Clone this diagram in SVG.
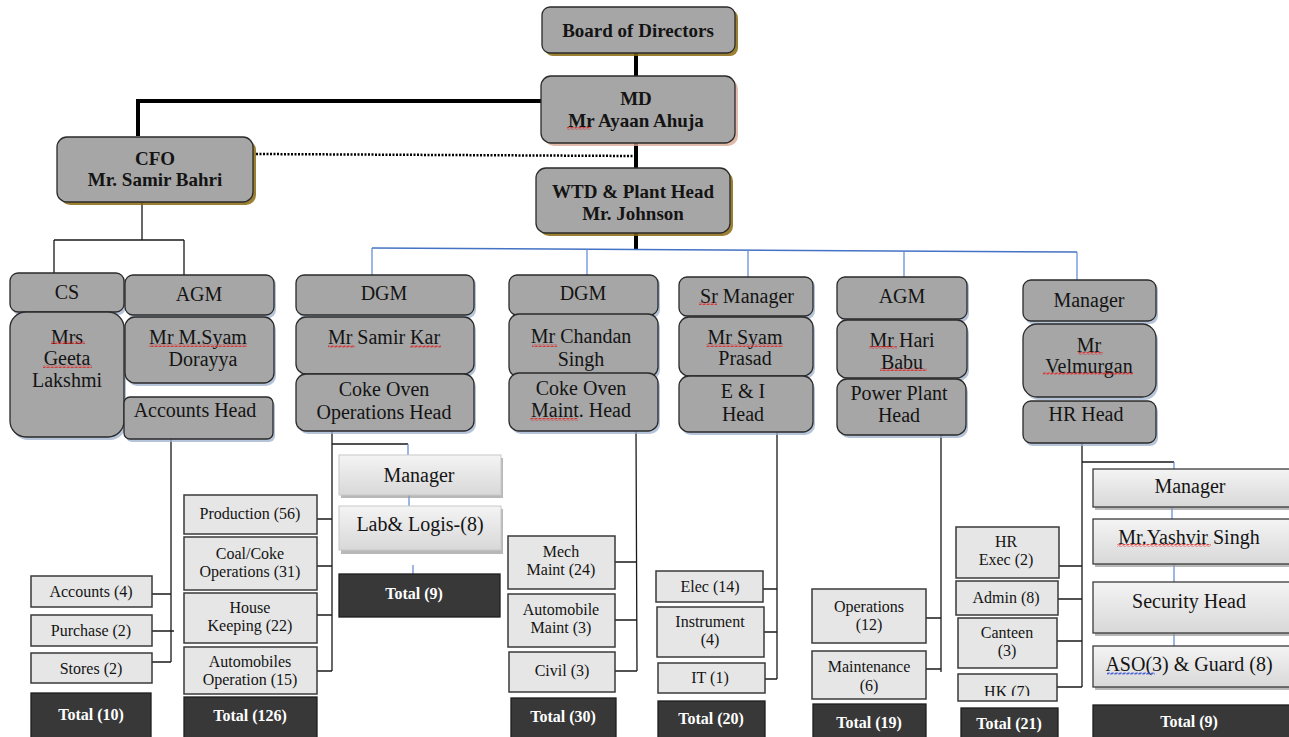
<svg xmlns="http://www.w3.org/2000/svg" width="1289" height="737" viewBox="0 0 1289 737">
<style>
.g{fill:#a6a6a6;stroke:#2a2a2a;stroke-width:1.3}
.shb{fill:#9db0cc;opacity:.75}
.shg{fill:#8a6a10;opacity:.85}
.shp{fill:#d9a993;opacity:.8}
.lt{fill:url(#lg);stroke:#c8c8c8;stroke-width:1}
.lt2{fill:url(#lg);stroke:#3a3a3a;stroke-width:1.3}
.shl{fill:#9a9a9a;opacity:.7}
.bx{fill:#e6e6e6;stroke:#3a3a3a;stroke-width:1.5}
.tot{fill:#383838;stroke:#1e1e1e;stroke-width:1.3}
text{font-family:"Liberation Serif","Times New Roman",serif;fill:#141414;text-anchor:middle}
.hb{font-size:19px;font-weight:bold}
.n{font-size:20px}
.s{font-size:16px}
.tw{font-size:16px;font-weight:bold;fill:#ffffff}
.k{stroke:#1a1a1a;fill:none;stroke-width:1.3}
.kk{stroke:#000;fill:none;stroke-width:4}
.bl{stroke:#4472c4;fill:none;stroke-width:1.5}
.blt{stroke:#5b86d6;fill:none;stroke-width:1.2}
.sq{fill:url(#wr)}
.sqb{fill:url(#wb)}
</style>
<defs>
<linearGradient id="lg" x1="0" y1="0" x2="0" y2="1">
<stop offset="0" stop-color="#f4f4f4"/>
<stop offset="1" stop-color="#d8d8d8"/>
</linearGradient>
<pattern id="wr" width="4" height="3" patternUnits="userSpaceOnUse">
<path d="M0,2.5 L1,0.5 L3,2.5 L4,0.5" stroke="#e02020" stroke-width="0.8" fill="none"/>
</pattern>
<pattern id="wb" width="4" height="3" patternUnits="userSpaceOnUse">
<path d="M0,2.5 L1,0.5 L3,2.5 L4,0.5" stroke="#2040d0" stroke-width="0.8" fill="none"/>
</pattern>
<clipPath id="hkclip"><rect x="958" y="674" width="99" height="22"/></clipPath>
</defs>

<g id="connectors">
<path class="kk" d="M636,53 V76" stroke-width="3"/>
<path class="kk" d="M541,101 H138 V136"/>
<path d="M256,154 L635,156" stroke="#000" stroke-width="2.5" stroke-dasharray="2,1.5" fill="none"/>
<path class="kk" d="M636,143 V168" stroke-width="3.5"/>
<path class="kk" d="M636,233 V249" stroke-width="3.5"/>
<path class="bl" d="M372,248 L1077,252"/>
<path class="blt" d="M372,248 V275 M587,249 V275 M748,250 V277 M904,251 V277 M1077,252 V280"/>
<path class="k" d="M142,202 V240 M54,240 H184 M54,240 V273 M184,240 V275"/>
<path class="k" d="M171,439 V662 M152,594 H171 M152,631 H174 M152,662 H171"/>
<path class="k" d="M332,431 V671 M332,444 H408 M317,519 H332 M317,566 H332 M317,615 H332 M317,671 H332"/>
<path class="blt" d="M408,444 V455 M409,495 V506 M413,565 V574"/>
<path class="k" d="M636,431 L637,671 M615,562 H636 M615,620 H637 M615,671 H637"/>
<path class="k" d="M777,432 V679 M763,589 H777 M764,632 H777 M765,679 H777"/>
<path class="k" d="M941,435 V672 M926,618 H941 M926,669 H941"/>
<path class="k" d="M1082,443 V687 M1082,462 H1174 M1059,566 H1082 M1058,599 H1082 M1057,641 H1082 M1057,687 H1082"/>
<path class="blt" d="M1174,462 V469 M1172,507 V519 M1174,564 V582 M1174,633 V646"/>
</g>

<g id="board">
<rect class="shg" x="545" y="10" width="193" height="46" rx="8"/>
<rect class="g" x="542" y="7" width="193" height="46" rx="8"/>
<text class="hb" x="638" y="37">Board of Directors</text>
</g>
<g id="md">
<rect class="shp" x="544" y="79" width="194" height="67" rx="10"/>
<rect class="g" x="541" y="76" width="194" height="67" rx="10"/>
<text class="hb" x="636" y="105">MD</text>
<text class="hb" x="636" y="127">Mr Ayaan Ahuja</text>
<rect class="sq" x="567" y="127" width="24" height="3"/>
</g>
<g id="cfo">
<rect class="shg" x="60" y="140" width="196" height="65" rx="10"/>
<rect class="g" x="57" y="137" width="196" height="65" rx="10"/>
<text class="hb" x="155" y="165">CFO</text>
<text class="hb" x="155" y="186">Mr. Samir Bahri</text>
</g>
<g id="wtd">
<rect class="shg" x="539" y="171" width="194" height="65" rx="10"/>
<rect class="g" x="536" y="168" width="194" height="65" rx="10"/>
<text class="hb" x="633" y="198">WTD &amp; Plant Head</text>
<text class="hb" x="633" y="220">Mr. Johnson</text>
</g>

<g id="cs">
<rect class="shb" x="12" y="275" width="114" height="40" rx="8"/>
<rect class="g" x="10" y="273" width="114" height="39" rx="8"/>
<text class="n" x="67" y="299">CS</text>
</g>
<g id="cs-name">
<rect class="shb" x="12" y="315" width="114" height="125" rx="16"/>
<rect class="g" x="10" y="312" width="114" height="125" rx="16"/>
<text class="n" x="67" y="344">Mrs</text>
<text class="n" x="67" y="365">Geeta</text>
<text class="n" x="67" y="387">Lakshmi</text>
<rect class="sq" x="51" y="341" width="34" height="3"/>
<rect class="sq" x="43" y="365" width="49" height="3"/>
</g>
<g id="agm1">
<rect class="shb" x="127" y="277" width="149" height="41" rx="8"/>
<rect class="g" x="125" y="275" width="149" height="40" rx="8"/>
<text class="n" x="199" y="301">AGM</text>
</g>
<g id="agm1-name">
<rect class="shb" x="127" y="320" width="149" height="66" rx="10"/>
<rect class="g" x="125" y="317" width="149" height="66" rx="10"/>
<text class="n" x="198" y="344">Mr M.Syam</text>
<text class="n" x="203" y="366">Dorayya</text>
<rect class="sq" x="149" y="344" width="98" height="3"/>
</g>
<g id="accounts-head">
<rect class="shb" x="126" y="400" width="149" height="42" rx="6"/>
<rect class="g" x="124" y="397" width="149" height="42" rx="6"/>
<text class="n" x="195" y="417">Accounts Head</text>
</g>

<g id="dgm1">
<rect class="shb" x="298" y="277" width="178" height="41" rx="8"/>
<rect class="g" x="296" y="275" width="178" height="40" rx="8"/>
<text class="n" x="384" y="300">DGM</text>
</g>
<g id="dgm1-name">
<rect class="shb" x="298" y="320" width="178" height="57" rx="10"/>
<rect class="g" x="296" y="317" width="178" height="57" rx="10"/>
<text class="n" x="384" y="344">Mr Samir Kar</text>
<rect class="sq" x="328" y="345" width="27" height="3"/>
<rect class="sq" x="410" y="345" width="31" height="3"/>
</g>
<g id="coke-ops-head">
<rect class="shb" x="298" y="377" width="178" height="57" rx="10"/>
<rect class="g" x="296" y="374" width="178" height="57" rx="10"/>
<text class="n" x="384" y="396">Coke Oven</text>
<text class="n" x="384" y="419">Operations Head</text>
</g>

<g id="dgm2">
<rect class="shb" x="511" y="277" width="149" height="41" rx="8"/>
<rect class="g" x="509" y="275" width="149" height="40" rx="8"/>
<text class="n" x="583" y="300">DGM</text>
</g>
<g id="dgm2-name">
<rect class="shb" x="511" y="317" width="149" height="63" rx="10"/>
<rect class="g" x="509" y="314" width="149" height="63" rx="10"/>
<text class="n" x="581" y="343">Mr Chandan</text>
<text class="n" x="581" y="366">Singh</text>
<rect class="sq" x="532" y="344" width="25" height="3"/>
</g>
<g id="coke-maint-head">
<rect class="shb" x="511" y="376" width="149" height="58" rx="10"/>
<rect class="g" x="509" y="373" width="149" height="58" rx="10"/>
<text class="n" x="581" y="395">Coke Oven</text>
<text class="n" x="581" y="417">Maint. Head</text>
<rect class="sq" x="530" y="418" width="48" height="3"/>
</g>

<g id="srmgr">
<rect class="shb" x="681" y="279" width="134" height="40" rx="8"/>
<rect class="g" x="679" y="277" width="134" height="39" rx="8"/>
<text class="n" x="747" y="303">Sr Manager</text>
<rect class="sq" x="699" y="302" width="18" height="3"/>
</g>
<g id="srmgr-name">
<rect class="shb" x="681" y="320" width="134" height="59" rx="10"/>
<rect class="g" x="679" y="317" width="134" height="59" rx="10"/>
<text class="n" x="745" y="344">Mr Syam</text>
<text class="n" x="745" y="365">Prasad</text>
<rect class="sq" x="706" y="344" width="77" height="3"/>
</g>
<g id="ei-head">
<rect class="shb" x="681" y="379" width="134" height="56" rx="10"/>
<rect class="g" x="679" y="376" width="134" height="56" rx="10"/>
<text class="n" x="743" y="398">E &amp; I</text>
<text class="n" x="743" y="421">Head</text>
</g>

<g id="agm2">
<rect class="shb" x="839" y="279" width="130" height="43" rx="8"/>
<rect class="g" x="837" y="277" width="130" height="42" rx="8"/>
<text class="n" x="902" y="303">AGM</text>
</g>
<g id="agm2-name">
<rect class="shb" x="839" y="323" width="130" height="58" rx="10"/>
<rect class="g" x="837" y="320" width="130" height="58" rx="10"/>
<text class="n" x="902" y="347">Mr Hari</text>
<text class="n" x="902" y="369">Babu</text>
<rect class="sq" x="869" y="346" width="28" height="3"/>
<rect class="sq" x="880" y="368" width="47" height="3"/>
</g>
<g id="power-head">
<rect class="shb" x="839" y="382" width="129" height="56" rx="10"/>
<rect class="g" x="837" y="379" width="129" height="56" rx="10"/>
<text class="n" x="899" y="400">Power Plant</text>
<text class="n" x="899" y="422">Head</text>
</g>

<g id="mgr-hr">
<rect class="shb" x="1025" y="282" width="133" height="42" rx="8"/>
<rect class="g" x="1023" y="280" width="133" height="41" rx="8"/>
<text class="n" x="1089" y="307">Manager</text>
</g>
<g id="mgr-hr-name">
<rect class="shb" x="1025" y="327" width="133" height="73" rx="14"/>
<rect class="g" x="1023" y="324" width="133" height="73" rx="14"/>
<text class="n" x="1089" y="352">Mr</text>
<text class="n" x="1089" y="373">Velmurgan</text>
<rect class="sq" x="1078" y="352" width="25" height="3"/>
<rect class="sq" x="1043" y="372" width="90" height="3"/>
</g>
<g id="hr-head">
<rect class="shb" x="1025" y="404" width="133" height="42" rx="8"/>
<rect class="g" x="1023" y="401" width="133" height="42" rx="8"/>
<text class="n" x="1086" y="421">HR Head</text>
</g>

<g id="accounts">
<rect class="bx" x="31" y="576" width="121" height="31"/>
<text class="s" x="91" y="597">Accounts (4)</text>
</g>
<g id="purchase">
<rect class="bx" x="31" y="615" width="121" height="31"/>
<text class="s" x="91" y="636">Purchase (2)</text>
</g>
<g id="stores">
<rect class="bx" x="31" y="653" width="121" height="30"/>
<text class="s" x="91" y="674">Stores (2)</text>
</g>
<g id="total-10">
<rect class="tot" x="31" y="693" width="120" height="46"/>
<text class="tw" x="91" y="720">Total (10)</text>
</g>

<g id="production">
<rect class="bx" x="184" y="495" width="133" height="39"/>
<text class="s" x="250" y="519">Production (56)</text>
</g>
<g id="coal-coke">
<rect class="bx" x="184" y="537" width="133" height="53"/>
<text class="s" x="250" y="559">Coal/Coke</text>
<text class="s" x="250" y="577">Operations (31)</text>
</g>
<g id="housekeeping">
<rect class="bx" x="184" y="593" width="133" height="50"/>
<text class="s" x="250" y="613">House</text>
<text class="s" x="250" y="631">Keeping (22)</text>
</g>
<g id="automobiles-op">
<rect class="bx" x="184" y="647" width="133" height="47"/>
<text class="s" x="250" y="667">Automobiles</text>
<text class="s" x="250" y="685">Operation (15)</text>
</g>
<g id="total-126">
<rect class="tot" x="184" y="697" width="133" height="42"/>
<text class="tw" x="250" y="721">Total (126)</text>
</g>

<g id="manager-lab">
<rect class="shl" x="341" y="458" width="162" height="40"/>
<rect class="lt" x="339" y="455" width="162" height="40"/>
<text class="n" x="419" y="482">Manager</text>
</g>
<g id="lab-logis">
<rect class="shl" x="341" y="509" width="162" height="45"/>
<rect class="lt" x="339" y="506" width="162" height="44"/>
<text class="n" x="420" y="531">Lab&amp; Logis-(8)</text>
</g>
<g id="total-9a">
<rect class="tot" x="339" y="574" width="161" height="43"/>
<text class="tw" x="414" y="599">Total (9)</text>
</g>

<g id="mech-maint">
<rect class="bx" x="508" y="536" width="107" height="53"/>
<text class="s" x="561" y="557">Mech</text>
<text class="s" x="561" y="575">Maint (24)</text>
</g>
<g id="auto-maint">
<rect class="bx" x="508" y="594" width="107" height="53"/>
<text class="s" x="561" y="615">Automobile</text>
<text class="s" x="561" y="633">Maint (3)</text>
</g>
<g id="civil">
<rect class="bx" x="509" y="652" width="106" height="40"/>
<text class="s" x="562" y="676">Civil (3)</text>
</g>
<g id="total-30">
<rect class="tot" x="511" y="698" width="105" height="41"/>
<text class="tw" x="563" y="722">Total (30)</text>
</g>

<g id="elec">
<rect class="bx" x="656" y="571" width="107" height="31"/>
<text class="s" x="710" y="592">Elec (14)</text>
</g>
<g id="instrument">
<rect class="bx" x="657" y="607" width="107" height="50"/>
<text class="s" x="710" y="627">Instrument</text>
<text class="s" x="710" y="645">(4)</text>
</g>
<g id="it">
<rect class="bx" x="658" y="663" width="107" height="30"/>
<text class="s" x="710" y="683">IT (1)</text>
</g>
<g id="total-20">
<rect class="tot" x="658" y="701" width="107" height="38"/>
<text class="tw" x="711" y="724">Total (20)</text>
</g>

<g id="operations">
<rect class="bx" x="812" y="589" width="114" height="54"/>
<text class="s" x="869" y="612">Operations</text>
<text class="s" x="869" y="630">(12)</text>
</g>
<g id="maintenance">
<rect class="bx" x="812" y="651" width="114" height="48"/>
<text class="s" x="869" y="672">Maintenance</text>
<text class="s" x="869" y="691">(6)</text>
</g>
<g id="total-19">
<rect class="tot" x="813" y="704" width="113" height="35"/>
<text class="tw" x="869" y="728">Total (19)</text>
</g>

<g id="hr-exec">
<rect class="bx" x="956" y="527" width="103" height="51"/>
<text class="s" x="1006" y="547">HR</text>
<text class="s" x="1006" y="565">Exec (2)</text>
</g>
<g id="admin">
<rect class="bx" x="956" y="581" width="102" height="34"/>
<text class="s" x="1006" y="603">Admin (8)</text>
</g>
<g id="canteen">
<rect class="bx" x="958" y="618" width="99" height="50"/>
<text class="s" x="1007" y="638">Canteen</text>
<text class="s" x="1007" y="656">(3)</text>
</g>
<g id="hk">
<rect class="bx" x="958" y="674" width="99" height="27"/>
<text class="s" x="1007" y="697" clip-path="url(#hkclip)">HK (7)</text>
</g>
<g id="total-21">
<rect class="tot" x="961" y="708" width="97" height="31"/>
<text class="tw" x="1009" y="729">Total (21)</text>
</g>

<g id="manager-sec">
<rect class="shl" x="1095" y="472" width="196" height="38"/>
<rect class="lt2" x="1093" y="469" width="197" height="38"/>
<text class="n" x="1190" y="493">Manager</text>
</g>
<g id="yashvir">
<rect class="shl" x="1095" y="522" width="196" height="45"/>
<rect class="lt2" x="1093" y="519" width="197" height="45"/>
<text class="n" x="1189" y="544">Mr.Yashvir Singh</text>
<rect class="sq" x="1117" y="544" width="94" height="3"/>
</g>
<g id="security-head">
<rect class="shl" x="1095" y="585" width="196" height="51"/>
<rect class="lt2" x="1093" y="582" width="197" height="51"/>
<text class="n" x="1189" y="608">Security Head</text>
</g>
<g id="aso-guard">
<rect class="shl" x="1095" y="649" width="196" height="41"/>
<rect class="lt2" x="1093" y="646" width="197" height="41"/>
<text class="n" x="1189" y="671">ASO(3) &amp; Guard (8)</text>
<rect class="sqb" x="1107" y="672" width="48" height="3"/>
</g>
<g id="total-9b">
<rect class="tot" x="1093" y="705" width="197" height="34"/>
<text class="tw" x="1189" y="727">Total (9)</text>
</g>
</svg>
